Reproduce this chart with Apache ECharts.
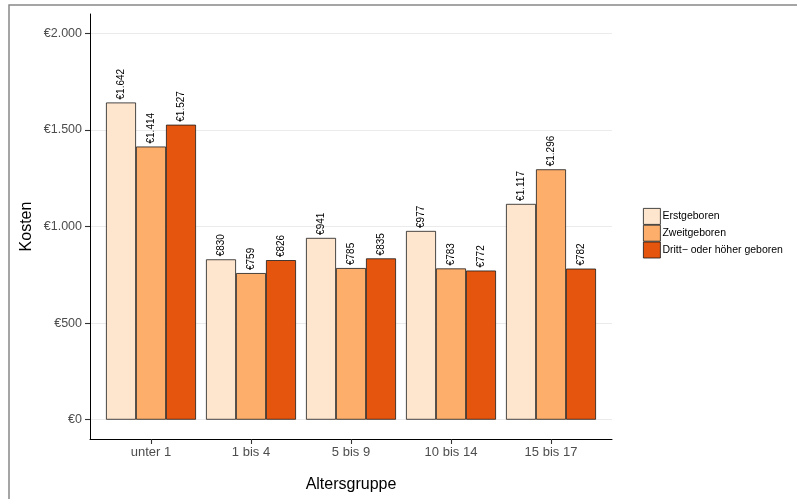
<!DOCTYPE html>
<html>
<head>
<meta charset="utf-8">
<script src="https://cdn.jsdelivr.net/npm/echarts@6/dist/echarts.min.js"></script>
<style>
    html, body { margin: 0; padding: 0; background: #fff; }
    #chart { width: 797px; height: 499px; }
</style>
</head>
<body>
<div id="chart"></div>
<script>
const ageGroups = ['unter 1', '1 bis 4', '5 bis 9', '10 bis 14', '15 bis 17'];
const seriesNames = ['Erstgeboren', 'Zweitgeboren', 'Dritt\u2212 oder höher geboren'];
const erstgeboren = [1642, 830, 941, 977, 1117];
const zweitgeboren = [1414, 759, 785, 783, 1296];
const drittgeboren = [1527, 826, 835, 772, 782];
const yTicks = [0, 500, 1000, 1500, 2000];
const colors = ['#fee6ce', '#fdae6b', '#e6550d'];

// € with german thousands separator
const euro = v => {
    const s = String(Math.round(v));
    return '€' + s.replace(/\B(?=(\d{3})+(?!\d))/g, '.');
};

const font = 'Liberation Sans, Arial, sans-serif';
const chart = echarts.init(document.getElementById('chart'));

// panel: y from -100 to 2100 over 425px, starting at 14px
const top0 = 14, h0 = 425, lo = -100, hi = 2100;
const pxPer = h0 / (hi - lo);
const tickMin = yTicks[0], tickMax = yTicks[yTicks.length - 1];
const tickTop = top0 + (hi - tickMax) * pxPer;
const tickH = (tickMax - tickMin) * pxPer;

const makeSeries = (name, data, i) => ({
    name: name,
    type: 'bar',
    xAxisIndex: 1,
    yAxisIndex: 1,
    data: data,
    barGap: '0%',
    barCategoryGap: '10%',
    itemStyle: { color: colors[i], borderColor: '#1a1a1a', borderWidth: 0.8 },
    label: {
        show: true,
        position: 'top',
        rotate: 90,
        align: 'left',
        verticalAlign: 'middle',
        distance: 3,
        fontFamily: font,
        fontSize: 10,
        color: '#000',
        formatter: p => euro(p.value)
    }
});

const option = {
    animation: false,
    graphic: [{
        type: 'rect',
        shape: { x: 9, y: 5, width: 820, height: 520 },
        style: { fill: 'none', stroke: '#888', lineWidth: 1.5 },
        silent: true
    }],
    grid: [
        { left: 90, top: top0, width: 522, height: h0 },
        { left: 101, top: top0, width: 500, height: h0 },
        // tick range only (0 .. 2000): labels, ticks, grid lines
        { left: 90, top: tickTop, width: 522, height: tickH }
    ],
    legend: {
        orient: 'vertical',
        left: 643,
        top: 208,
        padding: 0,
        itemWidth: 17,
        itemHeight: 16,
        itemGap: 0,
        icon: 'rect',
        itemStyle: { borderColor: '#1a1a1a', borderWidth: 0.8 },
        textStyle: { fontFamily: font, fontSize: 10.5, color: '#000', padding: [0, 0, 0, -3] },
        data: seriesNames
    },
    xAxis: [
        {
            gridIndex: 0,
            type: 'category',
            data: ageGroups,
            axisLine: { show: true, onZero: false, lineStyle: { color: '#000', width: 1 } },
            axisTick: { show: false },
            axisLabel: { show: false },
            name: 'Altersgruppe',
            nameLocation: 'middle',
            nameGap: 38,
            nameTextStyle: { fontFamily: font, fontSize: 16, color: '#000' }
        },
        {
            gridIndex: 1,
            type: 'category',
            data: ageGroups,
            axisLine: { show: false, onZero: false },
            axisTick: { show: true, alignWithLabel: true, length: 5, lineStyle: { color: '#333', width: 1.1 } },
            axisLabel: { fontFamily: font, fontSize: 13, color: '#4d4d4d', margin: 7 }
        },
        { gridIndex: 2, type: 'category', data: ageGroups, show: false }
    ],
    yAxis: [
        {
            gridIndex: 0,
            type: 'value',
            min: lo,
            max: hi,
            axisLine: { show: true, lineStyle: { color: '#000', width: 1 } },
            axisTick: { show: false },
            axisLabel: { show: false },
            splitLine: { show: false },
            name: 'Kosten',
            nameLocation: 'middle',
            nameRotate: 90,
            nameGap: 55,
            nameTextStyle: { fontFamily: font, fontSize: 16, color: '#000' }
        },
        {
            gridIndex: 1,
            type: 'value',
            min: lo,
            max: hi,
            show: false,
            splitLine: { show: false }
        },
        {
            gridIndex: 2,
            type: 'value',
            min: tickMin,
            max: tickMax,
            interval: 500,
            axisLine: { show: true, lineStyle: { color: '#000', width: 1 } },
            axisTick: { show: true, length: 5, lineStyle: { color: '#333', width: 1.1 } },
            axisLabel: {
                fontFamily: font, fontSize: 12.5, color: '#4d4d4d', margin: 8,
                formatter: v => euro(v)
            },
            splitLine: { show: true, lineStyle: { color: '#ebebeb', width: 1 } }
        }
    ],
    series: [
        makeSeries(seriesNames[0], erstgeboren, 0),
        makeSeries(seriesNames[1], zweitgeboren, 1),
        makeSeries(seriesNames[2], drittgeboren, 2)
    ]
};
chart.setOption(option);
</script>
</body>
</html>
